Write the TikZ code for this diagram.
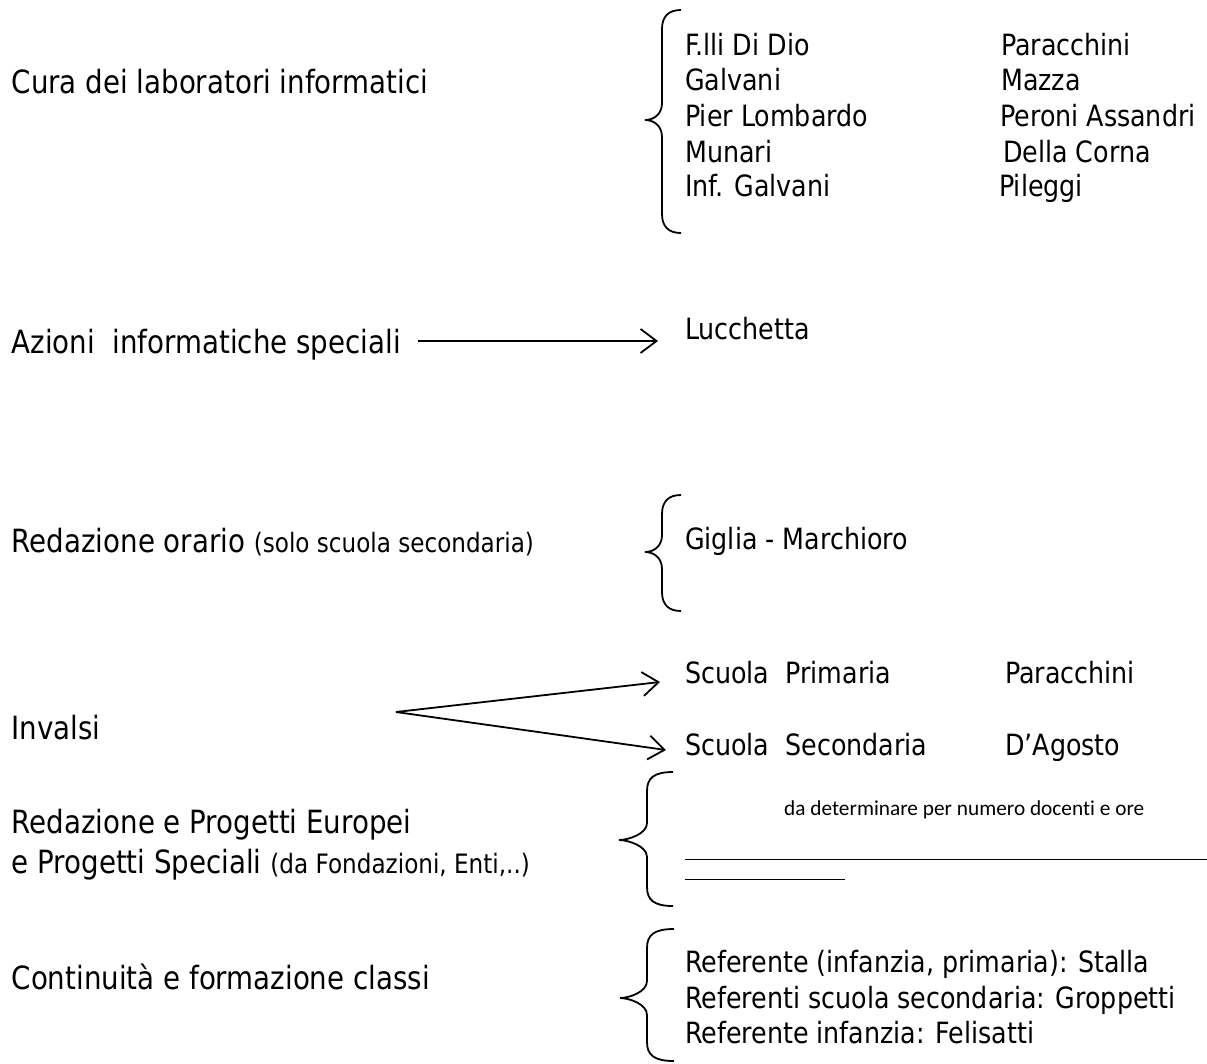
\documentclass[tikz,border=0pt]{standalone}
\usepackage{fontspec}
\setmainfont{DejaVu Sans}[FakeStretch=0.865]
\newfontfamily\calfont{Carlito}[Ligatures=NoCommon]
\usetikzlibrary{arrows.meta}
\newcommand\bigf{\fontsize{32}{38.6}\selectfont}
\newcommand\midf{\fontsize{29.3}{35.4}\selectfont}
\newcommand\smf{\fontsize{26.7}{32}\selectfont}
\newcommand\mybrace[6]{% xr xv xt ytop ymid ybot
  \draw[bracestyle] (#1,#4) .. controls ({#2+7},#4) and (#2,{#4+6}) .. (#2,{#4+19})
    -- (#2,{#5-17}) .. controls (#2,{#5-6}) and ({#3+9},#5) .. (#3,#5)
    .. controls ({#3+9},#5) and (#2,{#5+6}) .. (#2,{#5+17})
    -- (#2,{#6-19}) .. controls (#2,{#6-6}) and ({#2+7},#6) .. (#1,#6);}
\begin{document}
\begin{tikzpicture}[x=1pt,y=-1pt,
  lbl/.style={anchor=base west, inner sep=0pt, font=\bigf},
  itm/.style={anchor=base west, inner sep=0pt, font=\midf},
  bracestyle/.style={line width=1.8pt},
  arr/.style={line width=1.8pt, -{Straight Barb[length=16pt,width=24pt,line width=1.8pt]}}]
\useasboundingbox (0,0) rectangle (1207,1063);

% left labels
\node[lbl] (L1) at (11.5,93) {Cura dei laboratori informatici};
\node[lbl] (L2) at (11.5,353) {Azioni\ \ informatiche speciali};
\node[lbl] (L3) at (11.5,552) {Redazione orario {\smf(solo scuola secondaria)}};
\node[lbl] (L4) at (11.5,739) {Invalsi};
\node[lbl] (L5a) at (11.5,833) {Redazione e Progetti Europei};
\node[lbl] (L5b) at (11.5,873) {e Progetti Speciali {\smf(da Fondazioni, Enti,..)}};
\node[lbl] (L6) at (11.5,989) {Continuità e formazione classi};

% group 1
\mybrace{681}{662}{645}{10}{120}{233}
\node[itm] (a1) at (685,55.5) {F.lli Di Dio};
\node[itm] (a2) at (685,90.5) {Galvani};
\node[itm] (a3) at (685,126) {Pier Lombardo};
\node[itm] (a4) at (685,162) {Munari};
\node[itm] (a5) at (685,196) {Inf. Galvani};
\node[itm] (b1) at (1001,55.5) {Paracchini};
\node[itm] (b2) at (1001,90.5) {Mazza};
\node[itm] (b3) at (1000,126) {Peroni Assandri};
\node[itm] (b4) at (1003,162) {Della Corna};
\node[itm] (b5) at (999,196) {Pileggi};

% group 2
\node[itm] (luc) at (685,339) {Lucchetta};
\coordinate (s2) at (418,341);
\coordinate (e2) at (658,341);
\draw[arr] (s2) -- (e2);

% group 3
\mybrace{681}{662}{645}{495}{552}{611}
\node[itm] (gig) at (685,549) {Giglia - Marchioro};

% group 4
\node[itm] (sp) at (685,683) {Scuola\ \ Primaria};
\node[itm] (spn) at (1005,683) {Paracchini};
\node[itm] (ss) at (685,755) {Scuola\ \ Secondaria};
\node[itm] (ssn) at (1005,755) {D’Agosto};
\coordinate (inv) at (396,712);
\coordinate (ep) at (660,682);
\coordinate (es) at (666,750);
\draw[arr] (inv) -- (ep);
\draw[arr] (inv) -- (es);

% group 5
\mybrace{673}{647}{619}{772}{840}{906}
\node[anchor=base west, inner sep=0pt, font=\calfont\fontsize{21.3}{26}\selectfont] (det) at (784,815) {da determinare per numero docenti e ore};
\draw[line width=1pt] (685,859) -- (1207,859);
\draw[line width=1pt] (685,879) -- (845,879);

% group 6
\mybrace{674}{647}{620}{929}{998}{1061}
\node[itm] (r1) at (685,972) {Referente (infanzia, primaria): Stalla};
\node[itm] (r2) at (685,1008) {Referenti scuola secondaria: Groppetti};
\node[itm] (r3) at (685,1043) {Referente infanzia: Felisatti};
\end{tikzpicture}
\end{document}
